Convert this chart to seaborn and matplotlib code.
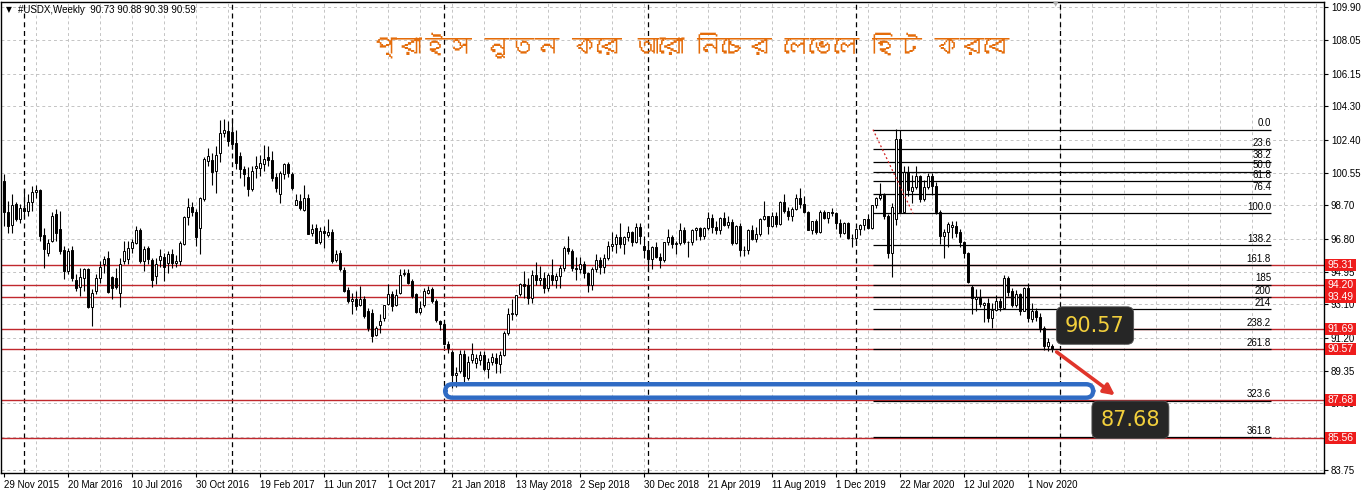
import matplotlib
matplotlib.use("Agg")
import numpy as np
import pandas as pd
import matplotlib.pyplot as plt
import seaborn as sns
from matplotlib import font_manager
from matplotlib.ft2font import FT2Font
from matplotlib.patches import FancyBboxPatch, Rectangle
from matplotlib.transforms import blended_transform_factory

# weekly USDX candles, 29 Nov 2015 .. Dec 2020 (one week missing in late 2018)
opens = [
    100.05, 98.30, 97.60, 98.75, 97.90, 98.55, 98.40, 98.86, 99.48, 99.55,
    97.00, 96.02, 96.68, 98.20, 97.35, 96.20, 95.00, 96.20, 94.50, 94.08,
    94.57, 95.08, 92.96, 93.85, 94.57, 95.36, 95.70, 94.64, 94.60, 93.75,
    95.55, 95.64, 96.27, 96.59, 97.29, 95.55, 96.27, 95.59, 94.70, 95.59,
    95.80, 95.45, 95.97, 95.45, 95.55, 96.50, 98.05, 98.60, 98.30, 97.42,
    99.07, 101.20, 101.28, 100.65, 101.68, 102.81, 102.92, 102.87, 102.24, 101.50,
    100.77, 100.31, 99.64, 100.83, 100.83, 101.05, 101.45, 101.28, 100.31, 99.35,
    100.48, 101.05, 100.48, 98.73, 98.95, 98.44, 99.12, 97.14, 97.42, 96.63,
    97.25, 97.03, 97.20, 95.61, 96.00, 95.04, 93.90, 93.30, 93.40, 93.05,
    93.40, 92.75, 92.62, 91.39, 91.92, 92.33, 93.13, 93.70, 93.05, 93.75,
    94.80, 94.89, 94.42, 93.66, 92.68, 93.05, 93.75, 93.94, 93.28, 92.15,
    92.00, 90.86, 90.41, 89.10, 89.31, 90.29, 88.93, 89.97, 89.78, 89.97,
    90.26, 89.46, 89.84, 90.07, 89.73, 90.22, 91.49, 92.55, 92.53, 93.66,
    94.25, 94.19, 93.47, 94.76, 94.45, 94.60, 94.00, 94.75, 94.45, 94.70,
    95.15, 96.30, 96.10, 95.15, 95.10, 95.40, 94.90, 94.20, 95.10, 95.60,
    95.20, 95.70, 96.40, 96.50, 96.90, 96.50, 96.90, 97.20, 96.60, 97.45,
    96.40, 96.20, 95.65, 96.35, 95.80, 95.60, 96.60, 96.90, 96.50, 96.55,
    97.30, 96.60, 96.65, 97.30, 97.40, 96.95, 97.40, 98.00, 97.50, 97.30,
    98.00, 97.60, 97.75, 96.55, 97.55, 96.20, 96.15, 97.30, 96.80, 97.10,
    97.90, 98.10, 97.55, 98.10, 97.65, 98.90, 98.40, 98.10, 98.50, 99.10,
    98.80, 98.30, 97.30, 97.80, 97.20, 98.35, 98.00, 98.30, 98.25, 97.70,
    97.15, 97.70, 96.85, 96.85, 97.35, 97.60, 97.90, 97.40, 98.70, 99.10,
    99.30, 98.10, 96.00, 97.90, 102.45, 98.35, 100.60, 99.50, 99.75, 100.35,
    99.05, 99.75, 100.35, 99.80, 98.30, 96.95, 97.20, 97.45, 97.55, 97.20,
    96.65, 96.00, 94.10, 93.40, 93.45, 93.05, 93.20, 92.35, 92.80, 93.30,
    92.90, 94.60, 93.85, 93.05, 93.70, 92.75, 94.05, 92.25, 92.75, 92.40,
    91.75, 90.75, 90.73,
]
highs = [
    100.48, 98.95, 99.33, 98.86, 98.77, 99.60, 99.33, 99.80, 99.85, 99.65,
    97.44, 96.78, 98.30, 98.48, 98.40, 96.40, 96.30, 96.40, 94.79, 95.17,
    95.17, 95.17, 93.94, 94.79, 95.55, 95.83, 96.12, 94.70, 95.17, 95.74,
    96.68, 96.68, 96.78, 97.53, 97.44, 96.40, 96.40, 95.74, 95.74, 96.21,
    96.02, 96.12, 96.21, 95.90, 96.70, 98.10, 99.10, 98.90, 98.50, 99.15,
    101.45, 101.95, 101.65, 102.05, 103.50, 103.60, 103.45, 103.65, 102.95, 101.70,
    100.95, 100.85, 100.95, 101.50, 101.55, 102.10, 102.05, 101.75, 100.55, 100.65,
    101.11, 101.15, 100.60, 99.35, 99.35, 99.85, 99.35, 97.65, 97.65, 97.50,
    97.55, 97.90, 97.35, 96.20, 96.15, 95.20, 94.10, 93.75, 93.85, 94.15,
    93.55, 92.90, 92.81, 91.86, 92.53, 93.09, 94.26, 93.85, 93.94, 95.08,
    95.08, 95.08, 94.51, 93.75, 93.28, 94.00, 94.13, 94.08, 93.38, 92.24,
    92.05, 91.00, 90.54, 89.55, 90.54, 90.54, 90.16, 90.92, 90.29, 90.45,
    90.45, 90.07, 90.35, 90.35, 90.45, 91.58, 92.90, 93.40, 93.65, 94.30,
    94.98, 94.60, 95.05, 95.50, 95.25, 94.95, 94.90, 95.65, 94.90, 95.30,
    96.40, 96.98, 96.25, 95.75, 95.75, 95.55, 94.95, 95.20, 95.95, 95.75,
    95.95, 96.70, 97.20, 97.05, 97.70, 96.95, 97.55, 97.25, 97.70, 97.70,
    96.95, 96.45, 96.40, 96.65, 96.00, 96.65, 97.35, 97.00, 96.70, 97.70,
    97.45, 96.70, 97.35, 97.45, 97.50, 97.50, 98.35, 98.20, 97.80, 98.05,
    98.35, 98.10, 97.90, 97.60, 97.70, 96.40, 97.35, 97.60, 97.45, 98.00,
    98.95, 98.10, 98.30, 98.35, 98.95, 99.35, 98.60, 98.60, 99.35, 99.70,
    99.20, 98.40, 97.80, 97.95, 98.45, 98.45, 98.35, 98.55, 98.30, 97.90,
    97.75, 97.75, 97.05, 97.40, 97.65, 97.95, 98.20, 98.70, 99.15, 99.95,
    99.40, 98.20, 98.85, 103.00, 102.95, 100.95, 100.95, 100.40, 100.90, 100.40,
    100.15, 100.55, 100.50, 100.00, 98.45, 97.35, 97.75, 97.80, 97.80, 97.35,
    96.70, 96.05, 94.20, 93.95, 93.95, 93.25, 93.45, 93.20, 93.65, 93.45,
    94.75, 94.70, 94.00, 93.90, 93.75, 94.10, 94.30, 93.20, 92.90, 92.60,
    91.90, 91.20, 90.88,
]
lows = [
    97.55, 97.15, 97.16, 97.80, 97.72, 98.00, 98.10, 98.39, 99.14, 96.68,
    95.17, 95.83, 96.60, 96.68, 95.93, 94.51, 94.80, 94.42, 93.85, 93.57,
    93.85, 92.90, 91.86, 93.66, 94.32, 94.89, 93.75, 93.38, 93.94, 92.96,
    95.36, 95.36, 96.02, 96.49, 95.45, 94.98, 95.36, 94.07, 94.23, 95.21,
    94.42, 94.89, 95.17, 95.20, 95.30, 96.45, 97.60, 98.10, 96.40, 95.95,
    98.95, 100.90, 99.85, 99.40, 101.15, 102.55, 102.05, 101.95, 100.75, 100.24,
    99.80, 99.20, 99.50, 100.26, 100.35, 100.65, 100.90, 100.10, 99.45, 98.85,
    100.20, 100.30, 99.55, 98.70, 98.45, 98.40, 97.05, 96.95, 96.55, 96.50,
    96.30, 96.90, 95.45, 95.50, 95.00, 93.80, 93.15, 92.55, 92.80, 93.00,
    92.35, 91.58, 90.97, 91.30, 91.49, 92.15, 93.05, 92.71, 92.99, 93.70,
    94.70, 94.23, 93.47, 92.62, 92.53, 92.94, 93.66, 93.19, 92.11, 91.67,
    90.82, 90.35, 88.37, 88.45, 89.22, 88.55, 88.84, 89.78, 89.50, 89.69,
    89.35, 88.93, 89.69, 89.22, 89.22, 90.16, 91.39, 92.20, 92.45, 93.55,
    93.47, 93.13, 93.20, 94.20, 94.20, 93.75, 93.85, 94.20, 94.00, 94.05,
    95.00, 95.95, 95.00, 94.45, 94.90, 94.60, 93.80, 93.90, 94.95, 94.80,
    94.85, 95.60, 96.10, 96.00, 96.30, 95.95, 96.70, 96.40, 96.55, 96.50,
    95.70, 95.05, 95.10, 95.70, 95.15, 95.50, 96.45, 96.30, 95.95, 96.45,
    96.50, 95.75, 96.45, 96.75, 96.75, 96.80, 97.30, 97.15, 97.05, 97.10,
    97.55, 97.40, 96.45, 96.50, 95.85, 95.85, 95.95, 96.75, 96.65, 96.95,
    97.85, 97.05, 97.45, 97.45, 97.60, 98.25, 97.85, 97.80, 98.45, 98.55,
    98.25, 97.30, 97.10, 97.10, 97.15, 97.95, 97.70, 98.10, 97.35, 96.90,
    97.05, 96.80, 96.35, 96.50, 97.00, 97.30, 97.35, 97.35, 98.55, 99.00,
    97.90, 95.70, 94.65, 97.60, 98.30, 98.30, 99.20, 98.85, 99.65, 98.90,
    98.95, 99.65, 99.30, 98.20, 96.50, 95.70, 96.35, 96.85, 96.90, 96.35,
    95.70, 94.30, 92.55, 92.75, 92.95, 92.10, 92.10, 91.75, 92.70, 92.70,
    92.85, 93.55, 92.95, 92.95, 92.50, 92.70, 92.10, 92.10, 92.15, 91.55,
    90.50, 90.45, 90.39,
]
closes = [
    98.30, 97.55, 98.73, 97.95, 98.57, 98.40, 98.86, 99.43, 99.56, 96.97,
    96.21, 96.59, 98.10, 97.16, 96.12, 94.98, 96.12, 94.57, 94.04, 94.64,
    95.08, 92.96, 93.75, 94.57, 95.21, 95.64, 93.81, 94.04, 94.07, 95.40,
    96.12, 96.27, 96.65, 97.29, 95.55, 96.21, 95.64, 94.45, 95.40, 95.83,
    95.21, 95.97, 95.45, 95.55, 96.55, 98.05, 98.60, 98.30, 96.90, 99.10,
    101.30, 101.50, 100.60, 101.55, 102.80, 102.98, 102.36, 102.19, 101.11, 100.77,
    100.48, 99.64, 100.65, 100.94, 101.11, 101.33, 101.28, 100.26, 99.69, 100.54,
    101.05, 100.50, 99.69, 99.01, 98.56, 99.12, 97.08, 97.36, 96.57, 97.25,
    97.15, 97.20, 95.55, 95.95, 95.10, 93.85, 93.28, 93.40, 93.00, 93.40,
    92.43, 91.77, 91.30, 91.77, 92.15, 93.05, 93.70, 93.00, 93.62, 94.76,
    94.89, 94.32, 93.56, 92.68, 92.87, 93.85, 93.89, 93.28, 92.19, 91.96,
    90.86, 90.63, 89.08, 89.22, 90.29, 89.03, 89.84, 90.29, 90.07, 90.26,
    89.46, 89.84, 90.10, 89.78, 90.26, 91.49, 92.53, 92.60, 93.60, 94.23,
    94.15, 93.47, 94.76, 94.45, 94.60, 94.00, 94.75, 94.45, 94.70, 95.15,
    96.30, 96.10, 95.15, 95.10, 95.40, 94.90, 94.20, 95.10, 95.60, 95.20,
    95.70, 96.40, 96.50, 96.90, 96.50, 96.90, 97.20, 96.60, 97.45, 96.95,
    96.20, 95.65, 96.35, 95.80, 95.60, 96.60, 96.90, 96.50, 96.55, 97.30,
    96.60, 96.65, 97.30, 97.40, 96.95, 97.40, 98.00, 97.50, 97.30, 98.00,
    97.60, 97.75, 96.55, 97.55, 96.20, 96.15, 97.30, 96.80, 97.10, 97.90,
    98.10, 97.55, 98.10, 97.65, 98.90, 98.40, 98.10, 98.50, 99.10, 98.80,
    98.30, 97.30, 97.80, 97.20, 98.35, 98.00, 98.30, 98.25, 97.70, 97.15,
    97.70, 96.85, 96.85, 97.35, 97.60, 97.90, 97.40, 98.70, 99.10, 99.30,
    98.10, 96.00, 98.60, 102.45, 98.35, 100.60, 99.55, 99.75, 100.35, 99.05,
    99.75, 100.35, 99.80, 98.30, 96.95, 97.20, 97.65, 97.60, 97.15, 96.65,
    96.00, 94.35, 93.45, 93.50, 93.10, 93.20, 92.35, 92.80, 93.30, 92.95,
    94.60, 93.80, 93.05, 93.70, 92.75, 94.00, 92.30, 92.75, 92.40, 91.75,
    90.75, 90.98, 90.59,
]

date_labels = ["29 Nov 2015", "20 Mar 2016", "10 Jul 2016", "30 Oct 2016", "19 Feb 2017",
               "11 Jun 2017", "1 Oct 2017", "21 Jan 2018", "13 May 2018", "2 Sep 2018",
               "30 Dec 2018", "21 Apr 2019", "11 Aug 2019", "1 Dec 2019", "22 Mar 2020",
               "12 Jul 2020", "1 Nov 2020"]
price_ticks = ["109.90", "108.05", "106.15", "104.30", "102.40", "100.55", "98.70", "96.80",
               "94.95", "93.10", "91.20", "89.35", "87.50", "85.60", "83.75"]
year_starts = [5, 57, 110, 161, 213, 264]

red_levels = [95.31, 94.20, 93.49, 91.69, 90.57, 87.68, 85.56]
fib_labels = ["0.0", "23.6", "38.2", "50.0", "61.8", "76.4", "100.0", "138.2", "161.8",
              "185", "200", "214", "238.2", "261.8", "323.6", "361.8"]
fib_prices = [102.98, 101.86, 101.17, 100.61, 100.05, 99.36, 98.24, 96.43, 95.31,
              94.21, 93.50, 92.84, 91.69, 90.57, 87.65, 85.58]
fib_anchor_x = [217.25, 227.25]
fib_anchor_y = [102.98, 98.24]
fib_end = 316.75

title_bn = "প্রাইস নুতন করে আরো নিচের লেভেলে হিট করবে"
header = "#USDX,Weekly  90.73 90.88 90.39 90.59"

df = pd.DataFrame({"open": opens, "high": highs, "low": lows, "close": closes})
df["x"] = np.arange(len(df))
df["bull"] = df["close"] >= df["open"]

sns.set_theme(style="white")
plt.rcParams['font.family'] = ['Liberation Sans', 'DejaVu Sans']


def font_with(ch):
    for f in font_manager.fontManager.ttflist:
        try:
            if ord(ch) in FT2Font(f.fname).get_charmap():
                return f.name
        except Exception:
            pass
    return None


bn_font = font_with("প")
title_family = [bn_font, 'DejaVu Sans'] if bn_font else ['DejaVu Sans']

W, H = 1364, 494
fig = plt.figure(figsize=(W / 100, H / 100), dpi=100)
fig.patch.set_facecolor("white")
ax = fig.add_axes([1 / W, 21 / H, 1323 / W, 471 / H])
ax.set_xlim(-0.75, 330)
ax.set_ylim(83.56, 110.20)

# grid
tick_vals = [float(t) for t in price_ticks]
for v in tick_vals:
    ax.axhline(v, color="#c4c4c4", lw=0.7, ls=(0, (3, 3)), zorder=0)
for gx in range(8, 331, 8):
    ax.axvline(gx, color="#c4c4c4", lw=0.7, ls=(0, (3, 3)), zorder=0)
for gx in year_starts:
    ax.axvline(gx, color="black", lw=0.9, ls=(0, (4, 3)), zorder=0.5)

# level lines
for lv in red_levels:
    ax.axhline(lv, color="#c0282d", lw=1.0, zorder=1)

# candles
ax.vlines(df["x"], df["low"], df["high"], color="black", lw=0.8, zorder=3)
body_lo = df[["open", "close"]].min(axis=1)
body_h = (df["close"] - df["open"]).abs().clip(lower=0.02)
ax.bar(df["x"], body_h, bottom=body_lo, width=0.72,
       color=np.where(df["bull"], "white", "black"), edgecolor="black", linewidth=0.7, zorder=4)

# fibonacci
ax.hlines(fib_prices, fib_anchor_x[0], fib_end, color="black", lw=0.9, zorder=2)
for lab, p in zip(fib_labels, fib_prices):
    ax.text(fib_end, p + 0.08, lab, ha="right", va="bottom", fontsize=7, color="black", zorder=5)
ax.plot(fib_anchor_x, fib_anchor_y, color="#d02020", lw=0.9, ls=(0, (1.5, 2)), zorder=5)

# blue target box
ax.add_patch(FancyBboxPatch((110.3, 87.82), 162.0, 0.76, boxstyle="round,pad=0,rounding_size=1.8",
                            mutation_aspect=0.226, fc="none", ec="#2f6bc4", lw=3.2, zorder=6))

# arrow and callouts
ax.annotate("", xy=(278.3, 87.86), xytext=(262.6, 90.50),
            arrowprops=dict(arrowstyle="-|>", color="#e0352b", lw=2.6, mutation_scale=16), zorder=7)
for txt, xx, yy in [("90.57", 272.75, 91.90), ("87.68", 281.6, 86.57)]:
    ax.text(xx, yy, txt, ha="center", va="center", fontsize=15, color="#f2cf3c",
            family=["DejaVu Sans"], zorder=8,
            bbox=dict(boxstyle="round,pad=0.42,rounding_size=0.3", fc="#262626", ec="#555555", lw=0.6))

# axes styling
for s in ax.spines.values():
    s.set_color("black")
    s.set_linewidth(1.0)
ax.yaxis.tick_right()
ax.set_yticks(tick_vals)
ax.set_yticklabels(price_ticks, fontsize=7)
ax.tick_params(axis="y", length=3, width=0.8, pad=2, colors="black", right=True, left=False)
ax.set_xticks(np.arange(0, 16 * len(date_labels), 16))
ax.set_xticklabels(date_labels, fontsize=7)
for lbl in ax.get_xticklabels():
    lbl.set_ha("left")
ax.tick_params(axis="x", length=3, width=0.8, pad=2, colors="black", bottom=True)

# red price tags on the axis (drawn over the tick labels, as in the terminal)
tr = blended_transform_factory(ax.transAxes, ax.transData)
tag_w = 31 / 1323
tag_h = 12 / 17.68
for lv in red_levels:
    ax.add_patch(Rectangle((1.0008, lv - tag_h / 2), tag_w, tag_h, transform=tr,
                           fc="#ee1c1c", ec="none", zorder=10, clip_on=False))
    ax.text(1.0008 + tag_w / 2, lv, f"{lv:.2f}", transform=tr, ha="center", va="center",
            fontsize=7.5, color="white", zorder=11, clip_on=False)

# header and title
fig.text(6 / W, 1 - 10 / H, "▼", fontsize=5.5, color="black", va="center", family=["DejaVu Sans"])
fig.text(18 / W, 1 - 10 / H, header, fontsize=7, color="black", va="center")
fig.text(1056 / W, 1 - 4 / H, "▼", fontsize=5, color="#b0b0b0", va="center", ha="center",
         family=["DejaVu Sans"])
fig.text(691 / W, 1 - 45 / H, title_bn, fontsize=18, color="#e46c0a", ha="center", va="center",
         family=title_family)

fig.savefig("out.png", dpi=100, facecolor="white")
